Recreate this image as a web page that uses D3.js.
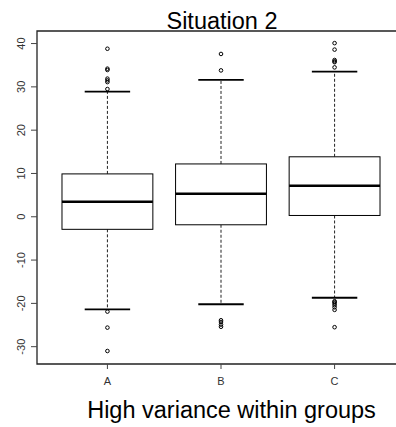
<!DOCTYPE html>
<html lang="en">
<head>
<meta charset="UTF-8">
<title>Situation 2</title>
<script src="https://cdn.jsdelivr.net/npm/d3@7/dist/d3.min.js"></script>
<style>
  body { margin: 0; background: #fff; }
  svg { display: block; font-family: "Liberation Sans", Arial, sans-serif; }
</style>
</head>
<body>
<svg width="396" height="427"></svg>
<script>
// groups and their five-number summaries
const groups = ["A", "B", "C"];
const whiskerLow = [-21.4, -20.2, -18.7];
const q1 = [-2.9, -1.85, 0.3];
const medians = [3.46, 5.3, 7.15];
const q3 = [9.9, 12.2, 13.85];
const whiskerHigh = [28.9, 31.6, 33.5];

// outlying points per group
const outliersA = [38.8, 34.2, 33.9, 31.9, 31.5, 31.1, 29.5, -21.9, -25.6, -31.0];
const outliersB = [37.6, 33.8, -23.9, -24.3, -24.9, -25.4];
const outliersC = [40.1, 38.6, 36.2, 35.9, 35.7, 34.5, -19.5, -19.7, -20.0, -20.4, -20.9, -21.5, -25.5];
const outliers = [outliersA, outliersB, outliersC];

const yTicks = [-30, -20, -10, 0, 10, 20, 30, 40];

const svg = d3.select("svg");
const plotLeft = 37, plotRight = 405, plotTop = 31, plotBottom = 364;

// R style: x from 0.5-4% to 3.5+4% in group index units (1..3)
const x = d3.scaleLinear().domain([0.38, 3.62]).range([plotLeft, plotRight]);
const y = d3.scaleLinear().domain([-34, 42.9]).range([plotBottom, plotTop]);
const boxW = x(1.8) - x(1);

const data = groups.map((g, i) => ({
  name: g, i: i + 1,
  lo: whiskerLow[i], q1: q1[i], med: medians[i], q3: q3[i], hi: whiskerHigh[i],
  out: outliers[i]
}));

const box = svg.append("g").selectAll("g")
  .data(data)
  .join("g");

// whiskers (dashed)
box.append("line")
  .attr("x1", d => x(d.i)).attr("x2", d => x(d.i))
  .attr("y1", d => y(d.q3)).attr("y2", d => y(d.hi))
  .attr("stroke", "#222").attr("stroke-dasharray", "3,2");
box.append("line")
  .attr("x1", d => x(d.i)).attr("x2", d => x(d.i))
  .attr("y1", d => y(d.q1)).attr("y2", d => y(d.lo))
  .attr("stroke", "#222").attr("stroke-dasharray", "3,2");

// staples
box.selectAll("line.cap")
  .data(d => [d.lo, d.hi].map(v => ({ i: d.i, v })))
  .join("line")
  .attr("class", "cap")
  .attr("x1", d => x(d.i) - boxW / 4).attr("x2", d => x(d.i) + boxW / 4)
  .attr("y1", d => y(d.v)).attr("y2", d => y(d.v))
  .attr("stroke", "#000").attr("stroke-width", 1.8);

// boxes
box.append("rect")
  .attr("x", d => x(d.i) - boxW / 2)
  .attr("y", d => y(d.q3))
  .attr("width", boxW)
  .attr("height", d => y(d.q1) - y(d.q3))
  .attr("fill", "#fff").attr("stroke", "#000").attr("stroke-width", 1);

// medians
box.append("line")
  .attr("x1", d => x(d.i) - boxW / 2).attr("x2", d => x(d.i) + boxW / 2)
  .attr("y1", d => y(d.med)).attr("y2", d => y(d.med))
  .attr("stroke", "#000").attr("stroke-width", 2.6);

// outliers
box.selectAll("circle")
  .data(d => d.out.map(v => ({ i: d.i, v })))
  .join("circle")
  .attr("cx", d => x(d.i)).attr("cy", d => y(d.v))
  .attr("r", 1.8)
  .attr("fill", "none").attr("stroke", "#000").attr("stroke-width", 1);

// frame (right side is cut off by the picture edge)
svg.append("path")
  .attr("d", `M${plotRight},${plotTop}H${plotLeft}V${plotBottom}H${plotRight}`)
  .attr("fill", "none").attr("stroke", "#222").attr("stroke-width", 1.3);

// y axis
const yAxis = svg.append("g");
yAxis.selectAll("line")
  .data(yTicks)
  .join("line")
  .attr("x1", plotLeft - 6).attr("x2", plotLeft)
  .attr("y1", d => y(d)).attr("y2", d => y(d))
  .attr("stroke", "#444");
yAxis.selectAll("text")
  .data(yTicks)
  .join("text")
  .attr("transform", d => `translate(24.5,${y(d)}) rotate(-90)`)
  .attr("text-anchor", "middle")
  .attr("font-size", 11)
  .attr("fill", "#333")
  .text(d => d);

// x axis
const xAxis = svg.append("g");
xAxis.selectAll("line")
  .data(data)
  .join("line")
  .attr("x1", d => x(d.i)).attr("x2", d => x(d.i))
  .attr("y1", plotBottom).attr("y2", plotBottom + 5)
  .attr("stroke", "#444");
xAxis.selectAll("text")
  .data(data)
  .join("text")
  .attr("x", d => x(d.i)).attr("y", 385)
  .attr("text-anchor", "middle")
  .attr("font-size", 11)
  .attr("fill", "#333")
  .text(d => d.name);

// titles
svg.append("text")
  .attr("x", 222).attr("y", 29)
  .attr("text-anchor", "middle")
  .attr("font-size", 23.5)
  .text("Situation 2");
svg.append("text")
  .attr("x", 231.5).attr("y", 418)
  .attr("text-anchor", "middle")
  .attr("font-size", 23.5)
  .text("High variance within groups");
</script>
</body>
</html>
